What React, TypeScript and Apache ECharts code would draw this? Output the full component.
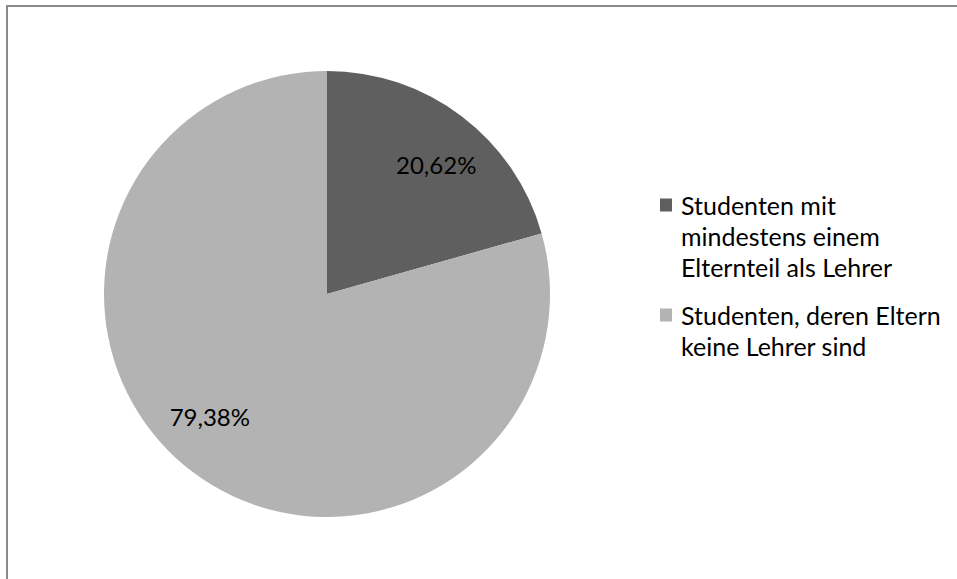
import React, { useEffect, useRef } from "react";
import * as echarts from "echarts";

const categories = [
  "Studenten mit\nmindestens einem\nElternteil als Lehrer",
  "Studenten, deren Eltern\nkeine Lehrer sind",
];
const values = [20.62, 79.38];
const colors = ["#5f5f5f", "#b3b3b3"];
const labelOffsets = [[6, 7], [-14, -14]];

const FONT = "Lato";

export default function App() {
  const ref = useRef<HTMLDivElement>(null);
  useEffect(() => {
    if (!ref.current) return;
    const chart = echarts.init(ref.current, null, { renderer: "svg" });
    const data = categories.map((c, i) => ({
      name: c,
      value: values[i],
      itemStyle: { color: colors[i] },
    }));
    const legendGraphics: any[] = [];
    let top = 189.5;
    categories.forEach((c, i) => {
      const lines = c.split("\n").length;
      legendGraphics.push({
        type: "rect",
        shape: { x: 660, y: top + 9, width: 12, height: 13 },
        style: { fill: colors[i] },
      });
      legendGraphics.push({
        type: "text",
        x: 681,
        y: top,
        style: {
          text: c,
          font: `25px ${FONT}`,
          lineHeight: 31,
          fill: "#000",
          textVerticalAlign: "top",
        },
      });
      top += lines * 31 + 17;
    });
    chart.setOption({
      animation: false,
      backgroundColor: "#ffffff",
      graphic: [
        {
          type: "rect",
          shape: { x: 7, y: 6, width: 1200, height: 1000 },
          style: { fill: "none", stroke: "#8a8a8a", lineWidth: 2 },
        },
        ...legendGraphics,
      ],
      series: [
        {
          type: "pie",
          center: [327, 294],
          radius: 223,
          startAngle: 90,
          clockwise: true,
          silent: true,
          label: { show: false },
          labelLine: { show: false },
          data,
        },
        {
          type: "pie",
          center: [327, 294],
          radius: 336,
          startAngle: 90,
          clockwise: true,
          silent: true,
          itemStyle: { color: "rgba(0,0,0,0)" },
          labelLine: { show: false },
          label: {
            show: true,
            position: "inside",
            fontFamily: FONT,
            fontSize: 24,
            color: "#000",
            formatter: (p: any) => p.value.toFixed(2).replace(".", ",") + "%",
          },
          data: data.map((d, i) => ({
            name: d.name,
            value: d.value,
            itemStyle: { color: "rgba(0,0,0,0)" },
            label: { offset: labelOffsets[i] },
          })),
        },
      ],
    });
    return () => chart.dispose();
  }, []);
  return (
    <div
      ref={ref}
      style={{ position: "fixed", left: 0, top: 0, width: 957, height: 579 }}
    />
  );
}
